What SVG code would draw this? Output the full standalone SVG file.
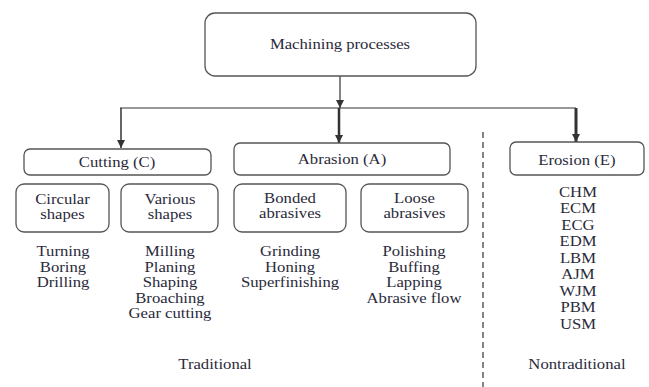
<svg xmlns="http://www.w3.org/2000/svg" width="649" height="387" viewBox="0 0 649 387">
<style>
.box{fill:#fff;stroke:#555;stroke-width:1.3}
.t{font-family:"Liberation Serif","Times New Roman",serif;font-size:14.5px;fill:#2a2a3a;text-anchor:middle}
.c{fill:none;stroke:#333}
</style>
<defs>
<marker id="ah" viewBox="0 0 10 10" refX="10" refY="5" markerWidth="8" markerHeight="8" markerUnits="userSpaceOnUse" orient="auto">
<path d="M0,0L10,5L0,10z" fill="#333"/>
</marker>
</defs>
<rect width="649" height="387" fill="#fff"/>
<g id="connectors">
<path class="c" d="M340,76V108" stroke-width="1.2" marker-end="url(#ah)"/>
<path class="c" d="M120,108H576" stroke-width="1.2"/>
<path class="c" d="M121,108V148" stroke-width="1.5" marker-end="url(#ah)"/>
<path class="c" d="M339,108V143" stroke-width="2.5" marker-end="url(#ah)"/>
<path class="c" d="M576,108V142" stroke-width="3" marker-end="url(#ah)"/>
<path class="c" d="M483,132V387" stroke-width="1.2" stroke-dasharray="6,4"/>
</g>
<g id="n-root"><rect class="box" x="205" y="13" width="271" height="63" rx="10"/></g>
<g id="n-cutting"><rect class="box" x="24" y="149" width="187" height="26" rx="6"/></g>
<g id="n-abrasion"><rect class="box" x="234" y="143" width="216" height="32" rx="6"/></g>
<g id="n-erosion"><rect class="box" x="510" y="142" width="134" height="33" rx="6"/></g>
<g id="n-circular"><rect class="box" x="16" y="184" width="93" height="48" rx="8"/></g>
<g id="n-various"><rect class="box" x="121" y="184" width="97" height="48" rx="8"/></g>
<g id="n-bonded"><rect class="box" x="234" y="184" width="112" height="48" rx="8"/></g>
<g id="n-loose"><rect class="box" x="361" y="184" width="107" height="48" rx="8"/></g>
<g id="labels" transform="scale(1.15,1)">
<text class="t" x="295.65" y="49">Machining processes</text>
<text class="t" x="101.74" y="167">Cutting (C)</text>
<text class="t" x="297.4" y="164">Abrasion (A)</text>
<text class="t" x="501.7" y="165">Erosion (E)</text>
<text class="t" x="54.35" y="204">Circular</text>
<text class="t" x="54.35" y="219">shapes</text>
<text class="t" x="147.8" y="204">Various</text>
<text class="t" x="147.8" y="219">shapes</text>
<text class="t" x="252.2" y="203">Bonded</text>
<text class="t" x="252.2" y="218">abrasives</text>
<text class="t" x="360.4" y="203">Loose</text>
<text class="t" x="360.4" y="218">abrasives</text>
<text class="t" x="54.8" y="256">Turning</text>
<text class="t" x="54.8" y="272">Boring</text>
<text class="t" x="54.8" y="287">Drilling</text>
<text class="t" x="147.8" y="256">Milling</text>
<text class="t" x="147.8" y="272">Planing</text>
<text class="t" x="147.8" y="287">Shaping</text>
<text class="t" x="147.8" y="303">Broaching</text>
<text class="t" x="147.8" y="318">Gear cutting</text>
<text class="t" x="252.2" y="256">Grinding</text>
<text class="t" x="252.2" y="272">Honing</text>
<text class="t" x="252.2" y="287">Superfinishing</text>
<text class="t" x="360" y="256">Polishing</text>
<text class="t" x="360" y="272">Buffing</text>
<text class="t" x="360" y="287">Lapping</text>
<text class="t" x="360" y="303">Abrasive flow</text>
<text class="t" x="502.6" y="197">CHM</text>
<text class="t" x="502.6" y="213.5">ECM</text>
<text class="t" x="502.6" y="230">ECG</text>
<text class="t" x="502.6" y="246.5">EDM</text>
<text class="t" x="502.6" y="263">LBM</text>
<text class="t" x="502.6" y="279.5">AJM</text>
<text class="t" x="502.6" y="296">WJM</text>
<text class="t" x="502.6" y="312.5">PBM</text>
<text class="t" x="502.6" y="329">USM</text>
<text class="t" x="187" y="369">Traditional</text>
<text class="t" x="501.7" y="369">Nontraditional</text>
</g>
</svg>
